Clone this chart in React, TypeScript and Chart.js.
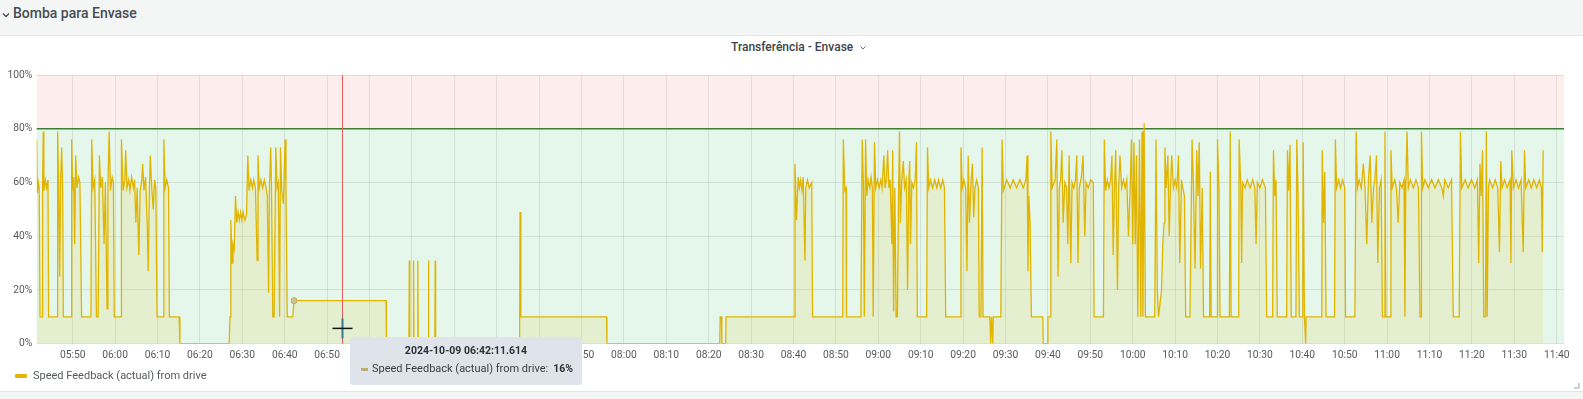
import React, { useEffect, useRef } from 'react';
import { Chart, registerables } from 'chart.js';

Chart.register(...registerables);

// ---- Data (time in minutes since midnight, value in % of speed) ----
const X_TICK_LABELS = [
  '05:50', '06:00', '06:10', '06:20', '06:30', '06:40', '06:50', '07:00', '07:10', '07:20', '07:30', '07:40',
  '07:50', '08:00', '08:10', '08:20', '08:30', '08:40', '08:50', '09:00', '09:10', '09:20', '09:30', '09:40',
  '09:50', '10:00', '10:10', '10:20', '10:30', '10:40', '10:50', '11:00', '11:10', '11:20', '11:30', '11:40',
];
const Y_TICKS = [0, 20, 40, 60, 80, 100];
const X_MIN = 341.51;
const X_MAX = 701.72;
const THRESHOLD = 80;
const MARKER_TIME = 413.44;
const CURSOR_VALUE = 5.7;
const HOVER_TIME = 402.19;

const EARLY_RUN: [number, number][] = [
  [341.5, 76], [341.66, 56], [341.9, 60], [342.1, 58], [342.3, 10], [342.76, 10], [342.9, 60], [343.07, 79], [343.2, 57], [343.55, 61], [343.86, 58], [344.17, 61], [344.33, 10],
  [346.37, 10], [346.45, 79], [346.69, 58], [346.93, 25], [347.16, 62], [347.4, 73], [347.63, 57], [347.79, 10],
  [349.6, 10], [349.76, 76], [349.99, 57], [350.23, 62], [350.46, 37], [350.7, 70], [351.0, 58], [351.4, 62], [351.7, 60], [352.1, 10],
  [354.3, 10], [354.5, 76], [354.8, 58], [355.2, 61], [355.6, 10], [356.0, 10], [356.3, 70], [356.6, 58], [357.0, 62], [357.4, 37], [357.7, 60], [358.1, 13], [358.3, 58], [358.6, 79], [358.9, 57], [359.3, 62], [359.6, 60], [359.8, 10],
  [361.4, 10], [361.5, 76], [361.9, 57], [362.3, 61], [362.5, 72], [362.8, 58], [363.2, 61], [363.5, 57], [363.9, 62], [364.3, 58], [364.6, 61], [364.9, 45], [365.2, 58], [365.6, 33], [365.9, 57], [366.3, 61], [366.5, 67], [366.8, 57], [367.2, 62], [367.6, 43], [367.8, 27], [368.1, 58], [368.3, 70], [368.6, 59], [369.0, 50], [369.3, 61], [369.6, 58], [369.9, 10],
  [371.4, 10], [371.5, 76], [371.8, 58], [372.2, 61], [372.6, 58], [372.8, 10],
  [375.1, 10], [375.3, 0],
  [386.9, 0], [387.1, 10], [387.3, 46], [387.6, 30], [387.8, 37], [388.1, 35], [388.4, 55], [388.7, 45], [389.0, 49], [389.3, 46], [389.6, 49], [389.9, 46], [390.2, 49], [390.6, 46], [391.0, 48], [391.3, 70], [391.6, 57], [392.0, 61], [392.4, 58], [392.7, 61], [393.1, 58], [393.5, 31], [393.7, 70], [394.0, 58], [394.4, 61], [394.8, 58], [395.2, 61], [395.6, 58], [395.9, 55], [396.2, 19], [396.4, 58], [396.7, 73], [396.9, 57], [397.2, 10], [397.5, 10], [397.9, 73], [398.2, 58], [398.5, 60], [398.8, 10], [399.0, 73], [399.3, 57], [399.7, 52], [400.1, 76], [400.3, 58], [400.6, 10],
];

const IDLE_PERIOD: [number, number][] = [
  [401.9, 10], [402.19, 16], [423.9, 16], [424.0, 0],
  [429.3, 0], [429.4, 31], [429.5, 0], [430.3, 0], [430.4, 31], [430.5, 0], [431.3, 0], [431.4, 31], [431.5, 0], [433.8, 0], [433.9, 31], [434.0, 0], [435.4, 0], [435.5, 31], [435.6, 0],
  [455.4, 0], [455.5, 49], [455.7, 10], [475.9, 10], [476.0, 0], [502.6, 0], [502.7, 10], [503.0, 10], [503.1, 0], [504.0, 0], [504.1, 10], [520.3, 10],
];

const LATE_RUN_A: [number, number][] = [
  [520.35, 67], [520.7, 46], [521.1, 62], [521.4, 58], [521.7, 61], [522.0, 57], [522.3, 62], [522.7, 31], [522.9, 58], [523.3, 61], [523.7, 58], [524.3, 60], [524.5, 10],
  [531.6, 10], [531.75, 76], [532.1, 57], [532.4, 58], [532.5, 10],
  [535.9, 10], [536.2, 76], [536.5, 58], [536.7, 10], [537.0, 76], [537.3, 55], [537.6, 61], [538.0, 58], [538.3, 62], [538.6, 58], [538.8, 10], [539.1, 75], [539.4, 58], [539.8, 61], [540.2, 58], [540.6, 61], [540.9, 58], [541.3, 70], [541.6, 58], [541.9, 61], [542.2, 72], [542.5, 58], [542.8, 61], [543.2, 37], [543.4, 72], [543.6, 12], [543.9, 58], [544.2, 10], [544.5, 10], [544.8, 58], [545.0, 79], [545.2, 45], [545.5, 60], [545.9, 68], [546.2, 58], [546.6, 61], [546.9, 20], [547.2, 61], [547.4, 68], [547.6, 37], [547.9, 60], [548.3, 58], [548.7, 61], [549.0, 75], [549.2, 10],
  [551.4, 10], [551.6, 73], [551.9, 58], [552.3, 61], [552.8, 58], [553.3, 61], [553.8, 58], [554.2, 61], [554.7, 58], [555.2, 61], [555.6, 58], [555.9, 10],
  [559.3, 10], [559.5, 73], [559.8, 58], [560.2, 61], [560.6, 58], [560.9, 27], [561.2, 70], [561.5, 45], [561.9, 61], [562.2, 67], [562.5, 47], [562.8, 58], [563.2, 61], [563.6, 58], [563.8, 10], [564.2, 10], [564.5, 73], [564.7, 10], [566.3, 10], [566.5, 0], [566.7, 10], [567.0, 0], [567.1, 10],
  [568.9, 10], [569.2, 76], [569.5, 57], [570.3, 61], [571.1, 58], [571.8, 61], [572.6, 58], [573.4, 61], [574.2, 58], [574.8, 61], [575.1, 70], [575.3, 27], [575.5, 55], [575.8, 45], [576.1, 10], [578.8, 10], [578.9, 0], [579.9, 0], [580.0, 10],
  [580.5, 10], [580.7, 79], [581.0, 58], [581.7, 61], [582.1, 76], [582.4, 25], [582.7, 58], [583.0, 61], [583.3, 72], [583.6, 45], [584.0, 60], [584.4, 58], [584.7, 37], [585.0, 70], [585.4, 30], [585.7, 60], [586.1, 58], [586.5, 61], [586.8, 70], [587.1, 30], [587.4, 58], [587.9, 62], [588.3, 70], [588.7, 40], [589.0, 60], [589.5, 58], [590.1, 61], [590.7, 60], [590.9, 10],
  [593.1, 10], [593.3, 76], [593.6, 57], [594.0, 61], [594.4, 58], [594.8, 61], [595.1, 70], [595.4, 33], [595.7, 58], [596.0, 72], [596.4, 20], [596.7, 58], [597.0, 70], [597.4, 58], [597.8, 61], [598.2, 58], [598.6, 61], [599.0, 40], [599.4, 58], [599.7, 76], [600.0, 37], [600.3, 75], [600.6, 37], [600.9, 70], [601.2, 10], [601.6, 76], [601.9, 10], [602.2, 79], [602.4, 10], [602.7, 82], [603.0, 10],
  [605.2, 10], [605.5, 76], [605.8, 20], [606.1, 10], [606.8, 20], [607.1, 37], [607.4, 45], [607.6, 73], [607.9, 58], [608.3, 70], [608.6, 40], [608.9, 58], [609.2, 70], [609.6, 58], [610.0, 61], [610.4, 58], [610.8, 70], [611.1, 30], [611.5, 61], [611.8, 58], [612.2, 55], [612.5, 10], [613.5, 10], [614.0, 76], [614.3, 60], [614.7, 28], [615.1, 72], [615.4, 55], [615.7, 75], [616.0, 28], [616.4, 58], [616.7, 10],
];

const LATE_RUN_B: [number, number][] = [
  [618.0, 10], [618.15, 12], [618.3, 64], [618.5, 10], [619.9, 10], [620.0, 76], [620.35, 57], [620.6, 10], [622.8, 10], [623.0, 79], [623.2, 10],
  [625.0, 10], [625.1, 76], [625.5, 58], [625.7, 30], [625.9, 60], [626.5, 58], [627.0, 61], [627.7, 58], [628.3, 61], [628.8, 58], [629.1, 37], [629.4, 60], [630.0, 58], [630.6, 61], [631.3, 58], [631.6, 10],
  [633.0, 10], [633.2, 72], [633.5, 55], [633.8, 61], [634.1, 10], [636.3, 10], [636.5, 72], [636.8, 57], [637.1, 74], [637.4, 10], [638.5, 10], [638.7, 76], [639.0, 55], [639.3, 10], [640.1, 10], [640.2, 75], [640.5, 10], [640.8, 0], [640.9, 10],
  [644.6, 10], [644.7, 72], [645.0, 45], [645.3, 64], [645.6, 10], [647.6, 10], [647.8, 76], [648.1, 58], [648.6, 61], [649.0, 58], [649.5, 61], [650.0, 58], [650.2, 10],
  [652.4, 10], [652.7, 79], [653.0, 58], [653.4, 61], [653.9, 58], [654.4, 67], [654.8, 58], [655.2, 37], [655.6, 61], [656.0, 70], [656.4, 45], [656.8, 58], [657.1, 61], [657.5, 70], [657.8, 30], [658.2, 58], [658.6, 61], [658.9, 10], [659.3, 10], [659.5, 79], [659.7, 10],
  [660.7, 10], [660.9, 72], [661.2, 58], [661.8, 61], [662.2, 58], [662.6, 45], [663.0, 60], [663.5, 58], [664.0, 61], [664.2, 10], [664.4, 58], [664.7, 79], [665.0, 58], [665.5, 61], [666.2, 58], [666.8, 61], [667.4, 58], [667.75, 10],
  [668.0, 10], [668.1, 79], [668.4, 58], [668.9, 61], [669.7, 58], [670.5, 61], [671.3, 58], [672.1, 61], [672.9, 58], [673.25, 55], [673.6, 61], [674.4, 58], [675.2, 61], [675.6, 10],
  [677.0, 10], [677.3, 79], [677.6, 58], [678.4, 61], [679.1, 58], [679.9, 61], [680.7, 58], [681.3, 61], [681.6, 30], [681.9, 67], [682.2, 55], [682.5, 72], [682.8, 10], [683.2, 10], [683.4, 79], [683.6, 10],
  [683.9, 58], [684.2, 61], [684.9, 58], [685.5, 61], [686.1, 58], [686.5, 34], [686.8, 68], [687.1, 58], [687.7, 61], [688.3, 58], [689.0, 61], [689.2, 30], [689.4, 72], [689.8, 58], [690.4, 61], [691.0, 58], [691.6, 61], [692.1, 34], [692.4, 72], [692.7, 58], [693.4, 61], [694.0, 58], [694.6, 61], [695.3, 58], [695.9, 61], [696.4, 58], [696.6, 34], [696.8, 72],
];

const SERIES_NAME = 'Speed Feedback (actual) from drive';
const SERIES_COLOR = 'rgb(224,180,0)';
const FONT = 'Roboto, "Noto Sans", sans-serif';
const TEXT_COLOR = 'rgba(36,41,46,0.78)';

function labelToMinutes(label: string): number {
  const [h, m] = label.split(':').map(Number);
  return h * 60 + m;
}
function minutesToLabel(v: number): string {
  const total = Math.round(v);
  const h = Math.floor(total / 60);
  const m = total % 60;
  return String(h).padStart(2, '0') + ':' + String(m).padStart(2, '0');
}

const overlayPlugin = {
  id: 'grafanaOverlay',
  beforeDraw(chart: any) {
    const { ctx, chartArea: a, scales } = chart;
    const y80 = scales.y.getPixelForValue(THRESHOLD);
    ctx.save();
    ctx.fillStyle = 'rgb(253,237,236)';
    ctx.fillRect(a.left, a.top, a.right - a.left, y80 - a.top);
    ctx.fillStyle = 'rgb(229,247,234)';
    ctx.fillRect(a.left, y80, a.right - a.left, a.bottom - y80);
    ctx.restore();
  },
  beforeDatasetsDraw(chart: any) {
    const { ctx, chartArea: a, scales } = chart;
    const y80 = scales.y.getPixelForValue(THRESHOLD);
    ctx.save();
    ctx.strokeStyle = 'rgb(62,125,52)';
    ctx.lineWidth = 1.5;
    ctx.beginPath();
    ctx.moveTo(a.left, y80);
    ctx.lineTo(a.right, y80);
    ctx.stroke();
    ctx.restore();
  },
  afterDatasetsDraw(chart: any) {
    const { ctx, chartArea: a, scales } = chart;
    const x = Math.round(scales.x.getPixelForValue(MARKER_TIME)) + 0.5;
    ctx.save();
    ctx.strokeStyle = 'rgb(226,92,92)';
    ctx.lineWidth = 1;
    ctx.beginPath();
    ctx.moveTo(x, a.top);
    ctx.lineTo(x, a.bottom);
    ctx.stroke();
    const cy = scales.y.getPixelForValue(CURSOR_VALUE);
    ctx.strokeStyle = '#2c7c93';
    ctx.lineWidth = 2;
    ctx.beginPath();
    ctx.moveTo(x, cy - 10);
    ctx.lineTo(x, cy + 10);
    ctx.stroke();
    ctx.strokeStyle = '#111';
    ctx.lineWidth = 1.5;
    ctx.beginPath();
    ctx.moveTo(x - 10, cy);
    ctx.lineTo(x + 10, cy);
    ctx.stroke();
    ctx.restore();
  },
};

function ChartCanvas() {
  const ref = useRef<HTMLCanvasElement | null>(null);
  useEffect(() => {
    if (!ref.current) return;
    const samples = [...EARLY_RUN, ...IDLE_PERIOD, ...LATE_RUN_A, ...LATE_RUN_B];
    const points = samples.map(([t, v]) => ({ x: t, y: v }));
    const hoverIndex = samples.findIndex(([t]) => t === HOVER_TIME);
    const tickFont = { family: FONT, size: 10.3 };
    const chart = new Chart(ref.current, {
      type: 'line',
      data: {
        datasets: [
          {
            label: SERIES_NAME,
            data: points,
            borderColor: SERIES_COLOR,
            backgroundColor: 'rgba(224,180,0,0.11)',
            borderWidth: 1.3,
            fill: 'origin',
            tension: 0,
            pointRadius: (c: any) => (c.dataIndex === hoverIndex ? 3 : 0),
            pointBackgroundColor: 'rgb(206,196,140)',
            pointBorderColor: 'rgb(190,175,100)',
            pointBorderWidth: 1,
          },
        ],
      },
      options: {
        animation: false,
        responsive: false,
        devicePixelRatio: 1,
        parsing: false,
        normalized: true,
        layout: { padding: { top: 75, right: 19, bottom: 35.3, left: 0 } },
        plugins: { legend: { display: false }, tooltip: { enabled: false }, title: { display: false } },
        scales: {
          x: {
            type: 'linear',
            min: X_MIN,
            max: X_MAX,
            afterBuildTicks: (s: any) => {
              s.ticks = X_TICK_LABELS.map((l) => ({ value: labelToMinutes(l) }));
            },
            afterFit: (s: any) => {
              s.height = 20;
            },
            grid: { color: 'rgba(36,41,46,0.1)', drawTicks: false },
            border: { display: false },
            ticks: {
              padding: 6,
              autoSkip: false,
              maxRotation: 0,
              color: TEXT_COLOR,
              font: tickFont,
              callback: (v: any) => minutesToLabel(Number(v)),
            },
          },
          y: {
            min: 0,
            max: 100,
            afterBuildTicks: (s: any) => {
              s.ticks = Y_TICKS.map((v) => ({ value: v }));
            },
            afterFit: (s: any) => {
              s.width = 36.7;
            },
            grid: { color: 'rgba(36,41,46,0.1)', drawTicks: false },
            border: { display: false },
            ticks: {
              padding: 4.4,
              color: TEXT_COLOR,
              font: tickFont,
              callback: (v: any) => v + '%',
            },
          },
        },
      },
      plugins: [overlayPlugin],
    } as any);
    return () => chart.destroy();
  }, []);
  return <canvas ref={ref} width={1583} height={399} style={{ position: 'absolute', left: 0, top: 0, width: 1583, height: 399 }} />;
}

export default function App() {
  return (
    <div
      style={{
        position: 'absolute',
        left: 0,
        top: 0,
        width: 1583,
        height: 399,
        background: '#f4f5f5',
        overflow: 'hidden',
        fontFamily: FONT,
      }}
    >
      {/* Row header */}
      <svg style={{ position: 'absolute', left: 2, top: 12 }} width={8} height={6}>
        <polyline points="1,1.5 4,4.5 7,1.5" fill="none" stroke="#464c54" strokeWidth={1.3} />
      </svg>
      <div
        style={{
          position: 'absolute',
          left: 13,
          top: 5,
          fontSize: 14,
          lineHeight: '17px',
          fontWeight: 500,
          color: '#464c54',
          whiteSpace: 'nowrap',
        }}
      >
        Bomba para Envase
      </div>
      {/* Panel */}
      <div
        style={{
          position: 'absolute',
          left: 0,
          top: 35,
          width: 1583,
          height: 357,
          background: '#ffffff',
          borderTop: '1px solid #e2e3e6',
          borderBottom: '1px solid #e2e3e6',
          boxSizing: 'border-box',
        }}
      />
      <div
        style={{
          position: 'absolute',
          left: 731,
          top: 40,
          fontSize: 12,
          lineHeight: '14px',
          fontWeight: 500,
          color: '#3d434b',
          whiteSpace: 'nowrap',
        }}
      >
        Transferência - Envase
      </div>
      <svg style={{ position: 'absolute', left: 859, top: 45 }} width={8} height={6}>
        <polyline points="1.5,1.5 4,4 6.5,1.5" fill="none" stroke="#6e7177" strokeWidth={1} />
      </svg>
      <ChartCanvas />
      {/* Legend */}
      <div
        style={{
          position: 'absolute',
          left: 15,
          top: 369,
          display: 'flex',
          alignItems: 'center',
          height: 13,
          fontSize: 11,
          color: TEXT_COLOR,
          whiteSpace: 'nowrap',
        }}
      >
        <span style={{ display: 'inline-block', width: 12, height: 4, borderRadius: 1, background: SERIES_COLOR, marginRight: 6 }} />
        <span>{SERIES_NAME}</span>
      </div>
      {/* Hover tooltip */}
      <div
        style={{
          position: 'absolute',
          left: 350,
          top: 337,
          width: 232,
          height: 48,
          background: '#dfe3ea',
          borderRadius: 3,
          color: '#2d3136',
        }}
      >
        <div
          style={{
            position: 'absolute',
            left: 0,
            top: 7,
            width: 232,
            textAlign: 'center',
            fontSize: 10.5,
            lineHeight: '14px',
            fontWeight: 700,
            whiteSpace: 'nowrap',
          }}
        >
          2024-10-09 06:42:11.614
        </div>
        <span style={{ position: 'absolute', left: 11, top: 31, width: 7, height: 3, background: 'rgb(186,174,112)' }} />
        <div style={{ position: 'absolute', left: 22, top: 25, fontSize: 11, lineHeight: '14px', whiteSpace: 'nowrap', color: '#3a3e44' }}>
          {SERIES_NAME}:
        </div>
        <div style={{ position: 'absolute', right: 9, top: 25, fontSize: 10.5, lineHeight: '14px', fontWeight: 700, whiteSpace: 'nowrap' }}>
          16%
        </div>
      </div>
      {/* Resize handle */}
      <svg style={{ position: 'absolute', left: 1574, top: 383 }} width={6} height={6}>
        <polyline points="5,0 5,5 0,5" fill="none" stroke="#9a9ea5" strokeWidth={1} />
      </svg>
    </div>
  );
}
